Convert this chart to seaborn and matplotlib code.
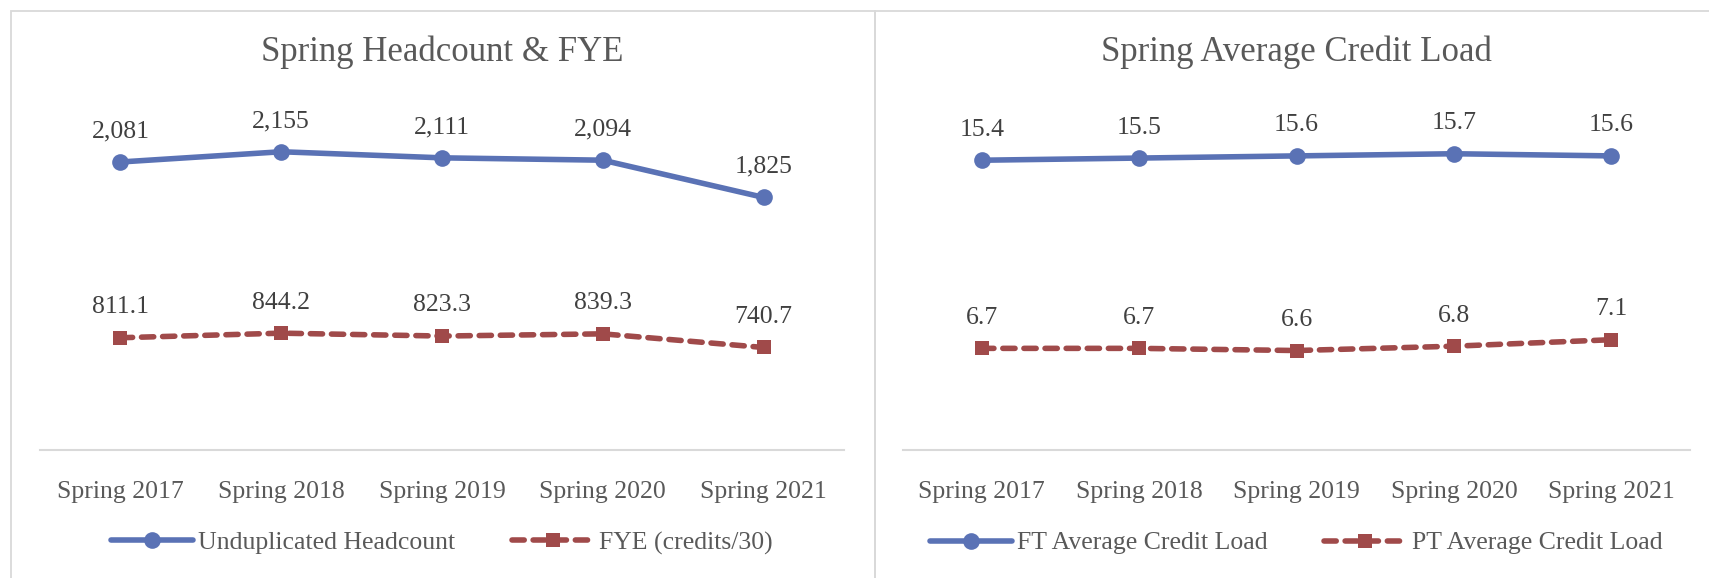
import matplotlib
matplotlib.use("Agg")
import matplotlib.pyplot as plt
import matplotlib.patches as mpatches
from matplotlib.lines import Line2D
import pandas as pd
import seaborn as sns

# Data
terms = ["Spring 2017", "Spring 2018", "Spring 2019", "Spring 2020", "Spring 2021"]
headcount = [2081, 2155, 2111, 2094, 1825]
fye = [811.1, 844.2, 823.3, 839.3, 740.7]
ft_load = [15.4, 15.5, 15.6, 15.7, 15.6]
pt_load = [6.7, 6.7, 6.6, 6.8, 7.1]

BLUE = "#5A72B5"
RED = "#A04A4A"
TEXT = "#595959"
LABEL = "#404040"
FONT = "Liberation Serif"
DASH = (0, (2.2, 1.6))

sns.set_theme(style="white")
plt.rcParams["font.family"] = [FONT, "DejaVu Serif"]

W, H = 1709, 578
fig = plt.figure(figsize=(W / 100, H / 100), dpi=100)


def px_rect(x0, y0, x1, y1):
    # pixel box (top-left origin) -> figure fraction [left, bottom, width, height]
    return [x0 / W, 1 - y1 / H, (x1 - x0) / W, (y1 - y0) / H]


# Panel frames
for x0, x1 in [(11, 875), (875, 1712)]:
    fig.patches.append(mpatches.Rectangle((x0 / W, -0.05), (x1 - x0) / W, 1 - 11 / H + 0.05,
                                          transform=fig.transFigure, fill=False,
                                          edgecolor="#D9D9D9", linewidth=1.3))


def draw_panel(ax, title, s1, s2, name1, name2, ylim, fmt, legend_x):
    df = pd.DataFrame({"pos": range(len(terms)), "a": s1, "b": s2})
    sns.lineplot(data=df, x="pos", y="a", ax=ax, color=BLUE, linewidth=4,
                 marker="o", markersize=12, markeredgewidth=0, solid_capstyle="round")
    sns.lineplot(data=df, x="pos", y="b", ax=ax, color=RED, linewidth=4,
                 linestyle=DASH, marker="s", markersize=10,
                 markeredgewidth=0, dash_capstyle="round")
    ax.set_xlim(-0.5, len(terms) - 0.5)
    ax.set_ylim(*ylim)
    ax.set_xticks(range(len(terms)))
    ax.set_xticklabels(terms, fontsize=18.5, color=TEXT)
    ax.tick_params(axis="x", length=0, pad=22)
    ax.set_yticks([])
    ax.set_xlabel("")
    ax.set_ylabel("")
    for side in ["top", "left", "right"]:
        ax.spines[side].set_visible(False)
    ax.spines["bottom"].set_color("#D9D9D9")
    ax.spines["bottom"].set_linewidth(1.5)

    for series in (s1, s2):
        for i, v in enumerate(series):
            ax.annotate(fmt(v), (i, v), xytext=(0, 22), textcoords="offset points",
                        ha="center", va="center", fontsize=18.5, color=LABEL)

    fig.text(legend_x, 1 - 52 / H, title, ha="center", va="center",
             fontsize=25, color=TEXT)

    handles = [
        Line2D([], [], color=BLUE, linewidth=4, marker="o", markersize=12,
               markeredgewidth=0, solid_capstyle="round"),
        Line2D([], [], color=RED, linewidth=4, linestyle=DASH, marker="s",
               markersize=10, markeredgewidth=0, dash_capstyle="round"),
    ]
    fig.legend(handles, [name1, name2], loc="center", bbox_to_anchor=(legend_x, 1 - 543 / H),
               ncol=2, frameon=False, fontsize=18.5, labelcolor=TEXT,
               handlelength=3.2, handletextpad=0.2, columnspacing=2.2)


ax1 = fig.add_axes(px_rect(40, 104, 844, 450))
draw_panel(ax1, "Spring Headcount & FYE", headcount, fye,
           "Unduplicated Headcount", "FYE (credits/30)", (0, 2500),
           lambda v: f"{v:,.0f}" if v >= 1000 else f"{v:.1f}", 442 / W)

ax2 = fig.add_axes(px_rect(903, 104, 1690, 450))
draw_panel(ax2, "Spring Average Credit Load", ft_load, pt_load,
           "FT Average Credit Load", "PT Average Credit Load", (2, 18),
           lambda v: f"{v:.1f}", 1296 / W)

fig.savefig("out.png", dpi=100, facecolor="white")
